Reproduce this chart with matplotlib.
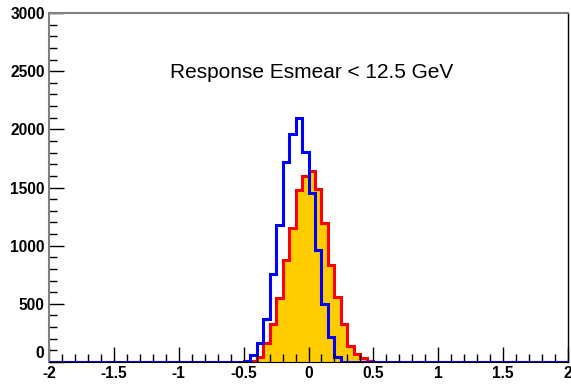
import numpy as np
import matplotlib
matplotlib.use("Agg")
import matplotlib.pyplot as plt
from matplotlib.ticker import MultipleLocator
from matplotlib.transforms import offset_copy

# Binning: 80 bins of 0.05 between -2 and 2
x_min = -2.0
x_max = 2.0
n_bins = 80

# Non-empty bins start at -0.5 (bin index 30)
first_bin = 30

# Response with Esmear (filled, red outline)
smeared_counts = [5, 11, 40, 160, 326, 546, 874, 1154, 1480, 1603,
                  1646, 1485, 1194, 831, 560, 326, 140, 69, 31, 11, 3]

# Response without smearing (blue outline)
raw_counts = [11, 57, 166, 371, 760, 1174, 1717, 1960, 2097, 1803,
              1451, 966, 497, 211, 46]

title_text = "Response Esmear < 12.5 GeV"


def full_hist(counts):
    h = np.zeros(n_bins)
    h[first_bin:first_bin + len(counts)] = counts
    return h


edges = np.linspace(x_min, x_max, n_bins + 1)
h_smear = full_hist(smeared_counts)
h_raw = full_hist(raw_counts)

plt.rcParams['font.family'] = ['Liberation Sans', 'DejaVu Sans']

fig = plt.figure(figsize=(5.71, 3.86), dpi=100)
ax = fig.add_axes([49 / 571, 24 / 386, 519 / 571, 349 / 386])

ax.stairs(h_smear, edges, fill=True, color='#ffcc00', linewidth=0)
ax.stairs(h_smear, edges, color='#ff0000', linewidth=2.2)
ax.stairs(h_raw, edges, color='#0000ff', linewidth=2.2)

ax.set_xlim(x_min, x_max)
ax.set_ylim(0, 3000)

ax.xaxis.set_major_locator(MultipleLocator(0.5))
ax.xaxis.set_minor_locator(MultipleLocator(0.1))
ax.yaxis.set_major_locator(MultipleLocator(500))
ax.yaxis.set_minor_locator(MultipleLocator(100))
ax.xaxis.set_major_formatter(plt.FuncFormatter(lambda v, p: '%g' % v))
# zero label is drawn separately, lifted above the x labels
ax.yaxis.set_major_formatter(plt.FuncFormatter(lambda v, p: '' if v == 0 else '%g' % v))

ax.tick_params(which='both', direction='in', top=False, right=False,
               width=1, color='black')
ax.tick_params(which='major', length=11, labelsize=11.2, pad=3)
ax.tick_params(which='minor', length=6)
for lab in ax.get_xticklabels() + ax.get_yticklabels():
    lab.set_fontweight('bold')

ax.text(0, 0, '0', transform=offset_copy(ax.get_yaxis_transform(), fig=fig, x=-5, y=8, units='dots'),
        ha='right', va='center', fontsize=11.2, fontweight='bold')

# frame: grey left/top, thin black right
ax.spines['left'].set_color('#808080')
ax.spines['left'].set_linewidth(1.5)
ax.spines['top'].set_color('#808080')
ax.spines['top'].set_linewidth(1.5)
ax.spines['right'].set_color('black')
ax.spines['right'].set_linewidth(1)
ax.spines['bottom'].set_color('black')

ax.text(0.506, 0.83, title_text, transform=ax.transAxes,
        ha='center', va='center', fontsize=15)

fig.savefig('out.png', dpi=100)
